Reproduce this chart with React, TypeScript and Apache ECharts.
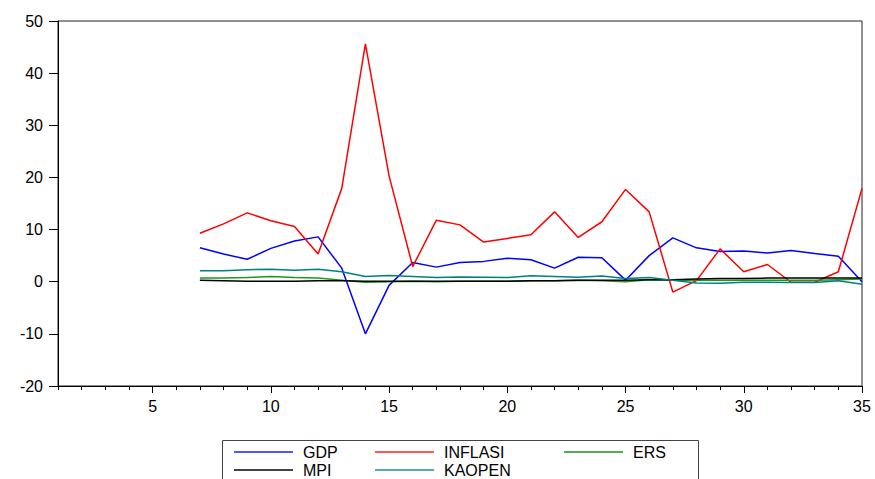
import React, { useEffect, useRef } from "react";
import * as echarts from "echarts";

const categories: string[] = Array.from({ length: 35 }, (_, i) => String(i + 1));
const yTicks = { min: -20, max: 50, interval: 10 };

const N = null;
const gdp = [N, N, N, N, N, N, 6.5, 5.3, 4.3, 6.4, 7.8, 8.6, 2.6, -10.0, -0.7, 3.7, 2.8, 3.7, 3.9, 4.5, 4.2, 2.6, 4.7, 4.6, 0.3, 5.0, 8.4, 6.5, 5.8, 5.9, 5.5, 6.0, 5.4, 4.9, 0.0];
const inflasi = [N, N, N, N, N, N, 9.3, 11.1, 13.2, 11.7, 10.6, 5.3, 17.9, 45.6, 20.3, 2.9, 11.8, 10.9, 7.6, 8.3, 9.0, 13.4, 8.5, 11.5, 17.7, 13.4, -2.0, 0.2, 6.3, 1.9, 3.3, -0.1, -0.1, 1.9, 17.9];
const ers = [N, N, N, N, N, N, 0.7, 0.7, 0.8, 1.0, 0.8, 0.7, 0.3, -0.1, 0.0, 0.1, 0.0, 0.1, 0.1, 0.1, 0.2, 0.2, 0.3, 0.2, 0.0, 0.4, 0.3, 0.3, 0.3, 0.3, 0.3, 0.3, 0.3, 0.4, 0.5];
const mpi = [N, N, N, N, N, N, 0.3, 0.2, 0.1, 0.1, 0.1, 0.2, 0.2, 0.1, 0.1, 0.1, 0.1, 0.1, 0.1, 0.1, 0.2, 0.2, 0.3, 0.3, 0.3, 0.4, 0.4, 0.5, 0.6, 0.6, 0.7, 0.7, 0.7, 0.7, 0.7];
const kaopen = [N, N, N, N, N, N, 2.1, 2.1, 2.3, 2.4, 2.2, 2.4, 1.9, 1.0, 1.2, 1.0, 0.8, 0.9, 0.85, 0.8, 1.15, 1.0, 0.85, 1.1, 0.6, 0.8, 0.3, -0.25, -0.3, -0.1, -0.1, -0.15, -0.15, 0.2, -0.5];

const seriesNames = ["GDP", "INFLASI", "ERS", "MPI", "KAOPEN"];
const seriesColors = ["#0000ff", "#ff0000", "#1a9a1a", "#000000", "#008080"];
const legendColors = ["#5555ff", "#ff5555", "#55aa55", "#444444", "#55aaaa"];
const seriesData = [gdp, inflasi, ers, mpi, kaopen];

const FONT = "'Liberation Sans', Arial, sans-serif";

export default function App() {
  const ref = useRef<HTMLDivElement>(null);
  useEffect(() => {
    if (!ref.current) return;
    const chart = echarts.init(ref.current, undefined, { renderer: "svg" });
    const legendPos = [
      [234, 444],
      [375, 444],
      [564, 444],
      [234, 462],
      [375, 462],
    ];
    chart.setOption({
      animation: false,
      backgroundColor: "#ffffff",
      textStyle: { fontFamily: FONT },
      grid: {
        left: 58,
        right: 13,
        top: 21,
        bottom: 93,
        show: true,
        borderColor: "#222",
        borderWidth: 1,
        backgroundColor: "transparent",
      },
      xAxis: [
        {
          type: "category",
          data: categories,
          boundaryGap: false,
          position: "bottom",
          axisLine: { show: true, onZero: false, lineStyle: { color: "#000", width: 1 } },
          axisTick: { show: true, interval: 0, length: 4, lineStyle: { color: "#000" } },
          axisLabel: {
            interval: (i: number) => (i + 1) % 5 === 0,
            color: "#000",
            fontSize: 16,
            fontFamily: FONT,
            margin: 12,
          },
          splitLine: { show: false },
        },
        {
          type: "category",
          data: categories,
          boundaryGap: false,
          position: "bottom",
          axisLine: { show: false, onZero: false },
          axisTick: {
            show: true,
            interval: (i: number) => (i + 1) % 5 === 0,
            length: 7,
            lineStyle: { color: "#000" },
          },
          axisLabel: { show: false },
          splitLine: { show: false },
        },
      ],
      yAxis: {
        type: "value",
        min: yTicks.min,
        max: yTicks.max,
        interval: yTicks.interval,
        axisLine: { show: true, lineStyle: { color: "#000", width: 1 } },
        axisTick: { show: true, length: 9, lineStyle: { color: "#000" } },
        axisLabel: { color: "#000", fontSize: 16, fontFamily: FONT, margin: 15 },
        splitLine: { show: false },
      },
      legend: seriesNames.map((name, i) => ({
        data: [{ name, itemStyle: { color: legendColors[i] } }],
        left: legendPos[i][0],
        top: legendPos[i][1],
        padding: 0,
        itemWidth: 59,
        itemHeight: 2,
        icon: "rect",
        selectedMode: false,
        textStyle: {
          color: "#000",
          fontSize: 16,
          fontFamily: FONT,
          lineHeight: 16,
          padding: [0, 0, 0, 5],
        },
      })),
      graphic: [
        {
          type: "rect",
          shape: { x: 222.5, y: 440.5, width: 476, height: 60 },
          style: { fill: "none", stroke: "#444", lineWidth: 1 },
          z: 0,
          silent: true,
        },
      ],
      series: seriesNames.map((name, i) => ({
        name,
        type: "line",
        data: seriesData[i],
        symbol: "none",
        connectNulls: false,
        lineStyle: { color: seriesColors[i], width: 1.5 },
        itemStyle: { color: seriesColors[i] },
        z: 2 + i,
      })),
    });
    return () => chart.dispose();
  }, []);
  return (
    <div
      ref={ref}
      style={{ position: "fixed", left: 0, top: 0, width: 875, height: 479, background: "#fff" }}
    />
  );
}
